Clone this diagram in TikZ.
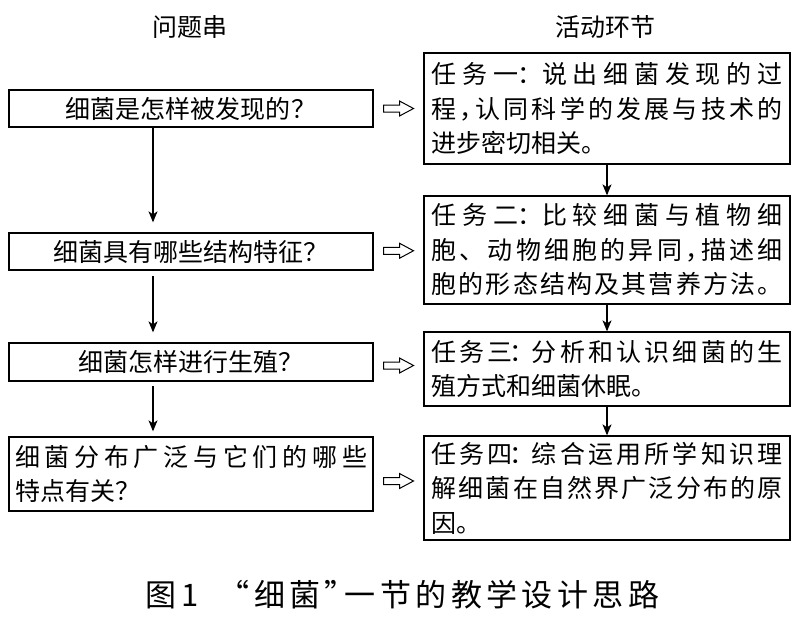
\documentclass[tikz,border=0pt]{standalone}
\usepackage{fontspec}
\setmainfont{Noto Sans CJK SC}
\usetikzlibrary{arrows.meta,calc}
\newcommand\jline[2]{\makebox[#1][s]{\jfirst#2\relax}}
\def\jfirst#1{#1\jnext}
\def\jnext#1{\ifx#1\relax\else\hfil#1\expandafter\jnext\fi}
\newcommand\hcolon{\makebox[0.5em]{：}}
\newcommand\hcomma{\makebox[0.5em][l]{，}}
\newcommand\lquo{\makebox[0.5em][r]{“}}
\newcommand\rquo{\makebox[0.5em][l]{”}}
\tikzset{
  txt/.style={font=\fontsize{25pt}{34.5pt}\selectfont},
  lbox/.style={draw, line width=1.3pt, txt, text width=352pt, inner xsep=6pt, inner ysep=0pt, minimum height=37pt},
  rbox/.style={draw, line width=1.3pt, txt, text width=351pt, inner xsep=7.5pt, inner ysep=0pt, align=left},
  varrow/.style={line width=1.1pt, -{Stealth[length=11pt,width=9pt,inset=3pt]}},
  harr/.pic={\draw[line width=1pt, line join=miter]
     (-15,-3.5) -- (1,-3.5) -- (1,-7.5) -- (15,0) -- (1,7.5) -- (1,3.5) -- (-15,3.5) -- cycle;}
}
\begin{document}
\begin{tikzpicture}[x=1pt,y=-1pt]
\useasboundingbox (0,0) rectangle (800,624);
\node[txt] (t1) at (190,27) {问题串};
\node[txt] (t2) at (605,27) {活动环节};

\node[lbox, align=center] (L1) at (191,108.5) {细菌是怎样被发现的？};
\node[lbox, align=center] (L2) at (191,251.5) {细菌具有哪些结构特征？};
\node[lbox, align=center, minimum height=38pt] (L3) at (191,362) {细菌怎样进行生殖？};
\node[lbox, align=left, minimum height=74pt] (L4) at (191,474) {\jline{352pt}{细菌分布广泛与它们的哪些}\\特点有关？};

\node[rbox, minimum height=111pt] (R1) at (607,108.5) {\jline{351pt}{任务一\hcolon 说出细菌发现的过}\\\jline{351pt}{程\hcomma 认同科学的发展与技术的}\\进步密切相关。};
\node[rbox, minimum height=108pt] (R2) at (607,250) {\jline{351pt}{任务二\hcolon 比较细菌与植物细}\\\jline{351pt}{胞、动物细胞的异同\hcomma 描述细}\\\jline{351pt}{胞的形态结构及其营养方法。}};
\node[rbox, minimum height=74pt] (R3) at (607,369) {\jline{351pt}{任务三\hcolon 分析和认识细菌的生}\\殖方式和细菌休眠。};
\node[rbox, minimum height=104pt] (R4) at (607,488) {\jline{351pt}{任务四\hcolon 综合运用所学知识理}\\\jline{351pt}{解细菌在自然界广泛分布的原}\\因。};

\coordinate (ax) at (153,0);
\draw[varrow, shorten >=10pt] (L1.south -| ax) -- (L2.north -| ax);
\draw[varrow, shorten <=5pt, shorten >=10pt] (L2.south -| ax) -- (L3.north -| ax);
\draw[varrow, shorten <=4pt, shorten >=5pt] (L3.south -| ax) -- (L4.north -| ax);

\draw[varrow] (R1.south) -- (R2.north);
\draw[varrow] (R2.south) -- (R3.north);
\draw[varrow] (R3.south) -- (R4.north);

\pic at ($(L1.east)!0.5!(R1.west)$) {harr};
\pic at ($(L2.east)!0.5!(R2.west)$) {harr};
\pic at ($(L3.east)!0.5!(R3.west)$) {harr};
\pic at ($(L4.east)!0.5!(R4.west)$) {harr};

\node[font=\fontsize{31pt}{36pt}\selectfont] (cap) at (402.5,595) {图\,1\hspace{35pt}\jline{425pt}{\lquo 细菌\rquo 一节的教学设计思路}};
\end{tikzpicture}
\end{document}
